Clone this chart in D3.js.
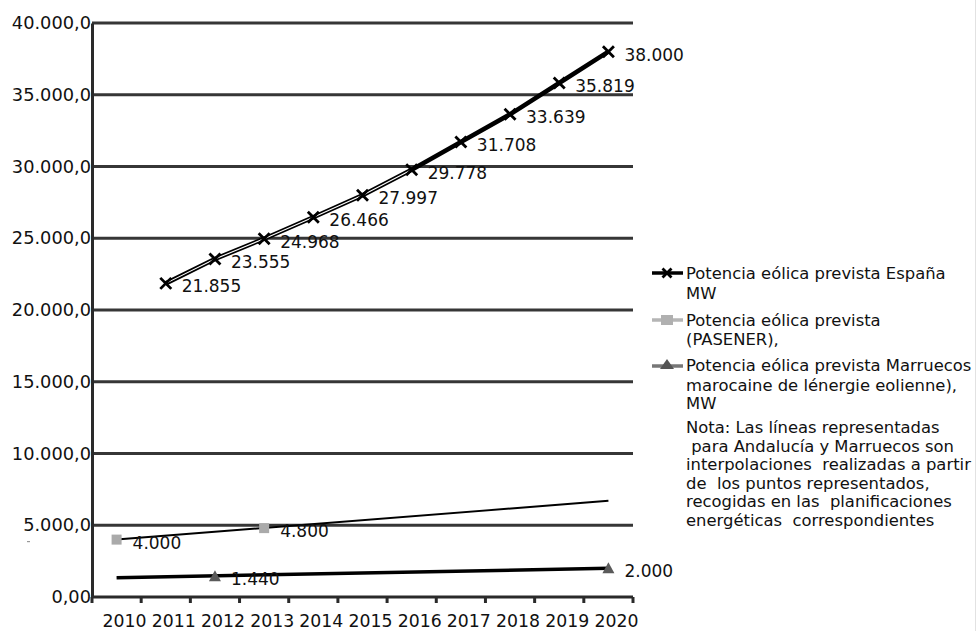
<!DOCTYPE html>
<html>
<head>
<meta charset="utf-8">
<script src="https://cdn.jsdelivr.net/npm/d3@7/dist/d3.min.js"></script>
<style>
  html, body { margin: 0; padding: 0; background: #fff; }
  svg { display: block; }
  text { font-family: "DejaVu Sans", Verdana, sans-serif; fill: #111; white-space: pre; }
</style>
</head>
<body>
<svg id="chart" width="978" height="631"></svg>
<script>
// Years on the horizontal axis
const years = [2010, 2011, 2012, 2013, 2014, 2015, 2016, 2017, 2018, 2019, 2020];

// Potencia eólica prevista España (MW), 2011–2020
const spainYears  = [2011, 2012, 2013, 2014, 2015, 2016, 2017, 2018, 2019, 2020];
const spainValues = [21855, 23555, 24968, 26466, 27997, 29778, 31708, 33639, 35819, 38000];

// Potencia eólica prevista (PASENER): planned points
const pasenerYears  = [2010, 2013];
const pasenerValues = [4000, 4800];
// Trend line drawn through the PASENER points
const pasenerTrendYears  = [2010, 2020];
const pasenerTrendValues = [4000, 6700];

// Potencia eólica prevista Marruecos: planned points
const marruecosYears  = [2012, 2020];
const marruecosValues = [1440, 2000];
// Trend line drawn through the Marruecos points
const marruecosTrendYears  = [2010, 2020];
const marruecosTrendValues = [1350, 2000];

// Y axis ticks and their labels
const yTicks  = [0, 5000, 10000, 15000, 20000, 25000, 30000, 35000, 40000];
const yLabels = ["0,00", "5.000,0", "10.000,0", "15.000,0", "20.000,0", "25.000,0", "30.000,0", "35.000,0", "40.000,0"];

const legendItems = [
  ["Potencia eólica prevista España", "MW"],
  ["Potencia eólica prevista", "(PASENER),"],
  ["Potencia eólica prevista Marruecos", "marocaine de lénergie eolienne),", "MW"]
];
const noteLines = [
  "Nota: Las líneas representadas",
  " para Andalucía y Marruecos son",
  "interpolaciones  realizadas a partir",
  "de  los puntos representados,",
  "recogidas en las  planificaciones",
  "energéticas  correspondientes"
];

const fmt = v => d3.format(",")(v).replace(/,/g, ".");

const svg = d3.select("#chart");
const plotLeft = 92, plotRight = 633, plotTop = 23, plotBottom = 597;

const x = d3.scaleBand().domain(years).range([plotLeft, plotRight]).padding(0);
const y = d3.scaleLinear().domain([0, 40000]).range([plotBottom, plotTop]);
const cx = yr => x(yr) + x.bandwidth() / 2;

// Horizontal gridlines
svg.append("g").selectAll("line")
  .data(yTicks.filter(t => t > 0))
  .join("line")
  .attr("x1", plotLeft).attr("x2", plotRight)
  .attr("y1", d => y(d)).attr("y2", d => y(d))
  .attr("stroke", "#363636").attr("stroke-width", 3);

// Y axis
const yAxis = d3.axisLeft(y).tickValues(yTicks).tickSize(0).tickPadding(1)
  .tickFormat((d, i) => yLabels[i]);
const gy = svg.append("g").attr("transform", `translate(${plotLeft},0)`).call(yAxis);
gy.select(".domain").attr("stroke", "#2a2a2a").attr("stroke-width", 3);
gy.selectAll("text").style("font-size", "17.8px").attr("fill", "#111")
  .style("font-family", "DejaVu Sans, sans-serif");

// Stray mark next to the 5.000 label
svg.append("rect").attr("x", 27).attr("y", 541).attr("width", 3).attr("height", 1.2).attr("fill", "#999");

// X axis: ticks at band boundaries
svg.append("line").attr("x1", plotLeft).attr("x2", plotRight).attr("y1", plotBottom).attr("y2", plotBottom)
  .attr("stroke", "#2a2a2a").attr("stroke-width", 3);
const bounds = years.map(d => x(d)).concat([plotRight]);
svg.append("g").selectAll("line").data(bounds).join("line")
  .attr("x1", d => d).attr("x2", d => d)
  .attr("y1", plotBottom).attr("y2", plotBottom + 6)
  .attr("stroke", "#2a2a2a").attr("stroke-width", 3);
svg.append("g").selectAll("text").data(years).join("text")
  .attr("x", d => cx(d) + 8).attr("y", plotBottom + 30)
  .attr("text-anchor", "middle")
  .style("font-size", "17.3px")
  .text(d => d);

const line = d3.line().x(d => cx(d[0])).y(d => y(d[1]));

// Trend lines
const pasTrend = pasenerTrendYears.map((d, i) => [d, pasenerTrendValues[i]]);
svg.append("path").attr("d", line(pasTrend)).attr("fill", "none")
  .attr("stroke", "#000").attr("stroke-width", 2);
const marTrend = marruecosTrendYears.map((d, i) => [d, marruecosTrendValues[i]]);
svg.append("path").attr("d", line(marTrend)).attr("fill", "none")
  .attr("stroke", "#000").attr("stroke-width", 3.5);

// España line
const spain = spainYears.map((d, i) => [d, spainValues[i]]);
svg.append("path").attr("d", line(spain)).attr("fill", "none")
  .attr("stroke", "#000").attr("stroke-width", 4.5).attr("stroke-linejoin", "round");
svg.append("path").attr("d", line(spain.slice(0, 6))).attr("fill", "none")
  .attr("stroke", "#fff").attr("stroke-width", 1.1);

// Markers
const cross = (g, px, py, s) => {
  g.append("path")
    .attr("d", `M${px - s},${py - s}L${px + s},${py + s}M${px - s},${py + s}L${px + s},${py - s}`)
    .attr("stroke", "#000").attr("stroke-width", 2.8).attr("fill", "none");
};
const mk = svg.append("g");
spain.forEach(d => cross(mk, cx(d[0]), y(d[1]), 5.5));

const pas = pasenerYears.map((d, i) => [d, pasenerValues[i]]);
svg.append("g").selectAll("rect").data(pas).join("rect")
  .attr("x", d => cx(d[0]) - 5).attr("y", d => y(d[1]) - 5)
  .attr("width", 10).attr("height", 10).attr("fill", "#aaaaaa");

const mar = marruecosYears.map((d, i) => [d, marruecosValues[i]]);
svg.append("g").selectAll("path").data(mar).join("path")
  .attr("d", d => `M${cx(d[0])},${y(d[1]) - 6}L${cx(d[0]) + 6},${y(d[1]) + 5}L${cx(d[0]) - 6},${y(d[1]) + 5}Z`)
  .attr("fill", "#5a5a5a");

// Value labels
const lbl = svg.append("g").style("font-size", "17px");
spain.concat(pas, mar).forEach(d => {
  lbl.append("text").attr("x", cx(d[0]) + 16).attr("y", y(d[1]) + 9).text(fmt(d[1]));
});

// Legend
const lg = svg.append("g");
const tx = 686;
const rows = [[273, 293], [320, 339], [365, 385, 403]];
legendItems.forEach((item, i) => {
  item.forEach((t, j) => {
    lg.append("text").attr("x", tx).attr("y", rows[i][j] + 6).style("font-size", "16.4px").text(t);
  });
  const sy = rows[i][0];
  if (i === 0) {
    lg.append("line").attr("x1", 652).attr("x2", 683).attr("y1", sy).attr("y2", sy)
      .attr("stroke", "#000").attr("stroke-width", 3.5);
    cross(lg, 667, sy, 4.5);
  } else if (i === 1) {
    lg.append("line").attr("x1", 652).attr("x2", 683).attr("y1", sy).attr("y2", sy)
      .attr("stroke", "#b5b5b5").attr("stroke-width", 3.5);
    lg.append("rect").attr("x", 661).attr("y", sy - 5).attr("width", 12).attr("height", 10).attr("fill", "#b0b0b0");
  } else {
    lg.append("line").attr("x1", 652).attr("x2", 683).attr("y1", sy + 1).attr("y2", sy + 1)
      .attr("stroke", "#777").attr("stroke-width", 3.5);
    lg.append("path").attr("d", `M667,${sy - 6}L674,${sy + 4}L660,${sy + 4}Z`).attr("fill", "#555");
  }
});
noteLines.forEach((t, i) => {
  lg.append("text").attr("x", tx).attr("y", 427 + i * 18.5 + 6).style("font-size", "16.4px").text(t);
});

// Faint right border
svg.append("line").attr("x1", 975.5).attr("x2", 975.5).attr("y1", 0).attr("y2", 631)
  .attr("stroke", "#e2e2e2").attr("stroke-width", 1);
</script>
</body>
</html>
